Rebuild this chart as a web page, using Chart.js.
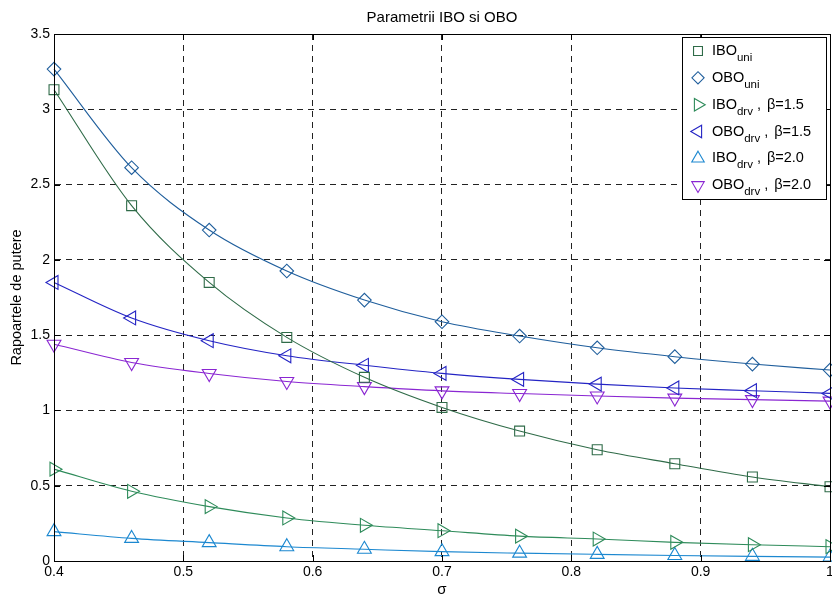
<!DOCTYPE html>
<html>
<head>
<meta charset="utf-8">
<script src="https://cdn.jsdelivr.net/npm/chart.js@4.4.1/dist/chart.umd.min.js"></script>
<style>
  html, body { margin: 0; padding: 0; background: #fff; }
  #wrap { width: 832px; height: 599px; }
</style>
</head>
<body>
<div id="wrap"><canvas id="chart" width="832" height="599"></canvas></div>
<script>
// sigma values where the markers sit
const sigma = [0.40, 0.46, 0.52, 0.58, 0.64, 0.70, 0.76, 0.82, 0.88, 0.94, 1.00];

// series
const iboUni    = [3.13, 2.36, 1.85, 1.485, 1.22, 1.02, 0.863, 0.739, 0.646, 0.558, 0.493];
const oboUni    = [3.267, 2.612, 2.198, 1.926, 1.733, 1.589, 1.494, 1.416, 1.357, 1.308, 1.268];
const iboDrv15  = [0.61, 0.463, 0.361, 0.286, 0.237, 0.201, 0.165, 0.146, 0.124, 0.108, 0.095];
const oboDrv15  = [1.85, 1.614, 1.463, 1.363, 1.30, 1.246, 1.206, 1.175, 1.149, 1.131, 1.113];
const iboDrv20  = [0.195, 0.15, 0.122, 0.095, 0.078, 0.062, 0.052, 0.044, 0.037, 0.031, 0.026];
const oboDrv20  = [1.44, 1.318, 1.245, 1.192, 1.158, 1.13, 1.112, 1.096, 1.082, 1.072, 1.062];

const xTicks = [0.4, 0.5, 0.6, 0.7, 0.8, 0.9, 1];
const yTicks = [0, 0.5, 1, 1.5, 2, 2.5, 3, 3.5];

const FONT = '"Liberation Sans", Arial, Helvetica, sans-serif';

const seriesInfo = [
  { name: 'IBO', sub: 'uni', tail: '',          data: iboUni,   color: '#2f6b48', style: 'rect',     rot: 0,   r: 7 },
  { name: 'OBO', sub: 'uni', tail: '',          data: oboUni,   color: '#1f5e9c', style: 'rectRot',  rot: 0,   r: 6.8 },
  { name: 'IBO', sub: 'drv', tail: '\u03b2=1.5', data: iboDrv15, color: '#2e8b5a', style: 'triangle', rot: 90,  r: 8 },
  { name: 'OBO', sub: 'drv', tail: '\u03b2=1.5', data: oboDrv15, color: '#2424c4', style: 'triangle', rot: 270, r: 8 },
  { name: 'IBO', sub: 'drv', tail: '\u03b2=2.0', data: iboDrv20, color: '#1c88d0', style: 'triangle', rot: 0,   r: 8 },
  { name: 'OBO', sub: 'drv', tail: '\u03b2=2.0', data: oboDrv20, color: '#8a26d2', style: 'triangle', rot: 180, r: 8 }
];

const datasets = seriesInfo.map(s => ({
  label: s.name + '_' + s.sub + (s.tail ? ' , ' + s.tail : ''),
  data: sigma.map((x, i) => ({ x: x, y: s.data[i] })),
  borderColor: s.color,
  borderWidth: 1.1,
  pointStyle: s.style,
  pointRotation: s.rot,
  pointRadius: s.r,
  pointBorderColor: s.color,
  pointBackgroundColor: 'rgba(0,0,0,0)',
  pointBorderWidth: 1.1,
  cubicInterpolationMode: 'monotone',
  clip: false
}));

// box, inward tick marks, title and the legend with subscripts
const matlabLook = {
  id: 'matlabLook',
  afterDraw(chart) {
    const ctx = chart.ctx;
    const a = chart.chartArea;
    const xs = chart.scales.x, ys = chart.scales.y;
    ctx.save();
    ctx.strokeStyle = '#000';
    ctx.lineWidth = 1;
    ctx.setLineDash([]);
    ctx.beginPath();
    xTicks.forEach(t => {
      const px = Math.round(xs.getPixelForValue(t)) + 0.5;
      ctx.moveTo(px, a.bottom); ctx.lineTo(px, a.bottom - 6);
      ctx.moveTo(px, a.top); ctx.lineTo(px, a.top + 6);
    });
    yTicks.forEach(t => {
      const py = Math.round(ys.getPixelForValue(t)) + 0.5;
      ctx.moveTo(a.left, py); ctx.lineTo(a.left + 6, py);
      ctx.moveTo(a.right, py); ctx.lineTo(a.right - 6, py);
    });
    ctx.stroke();
    ctx.strokeRect(Math.round(a.left) + 0.5, Math.round(a.top) + 0.5,
                   Math.round(a.right - a.left), Math.round(a.bottom - a.top));

    // title
    ctx.fillStyle = '#000';
    ctx.font = '15px ' + FONT;
    ctx.textAlign = 'center';
    ctx.textBaseline = 'alphabetic';
    ctx.fillText('Parametrii IBO si OBO', (a.left + a.right) / 2, 21.5);

    // legend
    const bx = 682.5, by = 37.5, bw = 144, bh = 162;
    ctx.fillStyle = '#fff';
    ctx.fillRect(bx, by, bw, bh);
    ctx.strokeStyle = '#000';
    ctx.strokeRect(bx, by, bw, bh);
    seriesInfo.forEach((s, i) => {
      const base = 55 + 26.85 * i;
      ctx.strokeStyle = s.color;
      ctx.fillStyle = 'rgba(0,0,0,0)';
      ctx.lineWidth = 1.1;
      Chart.helpers.drawPoint(ctx, { pointStyle: s.style, rotation: s.rot, radius: s.r * 0.9, borderWidth: 1.1 }, 698, base - 4);
      ctx.fillStyle = '#000';
      ctx.textAlign = 'left';
      ctx.font = '14.5px ' + FONT;
      let x = 712;
      ctx.fillText(s.name, x, base);
      x += ctx.measureText(s.name).width;
      ctx.font = '11.5px ' + FONT;
      ctx.fillText(s.sub, x, base + 6);
      x += ctx.measureText(s.sub).width;
      if (s.tail) {
        ctx.font = '14.5px ' + FONT;
        ctx.fillText(',', x + 4, base);
        ctx.fillText(s.tail, x + 14, base);
      }
    });
    ctx.restore();
  }
};

const fmt = v => String(+Number(v).toFixed(2));

new Chart(document.getElementById('chart'), {
  type: 'line',
  data: { datasets: datasets },
  options: {
    responsive: false,
    animation: false,
    layout: { autoPadding: false, padding: { top: 34, right: 2, left: 0, bottom: 0 } },
    plugins: { legend: { display: false }, title: { display: false }, tooltip: { enabled: false } },
    scales: {
      x: {
        type: 'linear',
        min: 0.4, max: 1,
        afterBuildTicks: s => { s.ticks = xTicks.map(v => ({ value: v })); },
        afterFit: s => { s.height = 38; s.paddingLeft = 0; s.paddingRight = 0; },
        ticks: { callback: fmt, color: '#000', font: { family: FONT, size: 14 }, padding: 3, maxRotation: 0, autoSkip: false },
        grid: { color: '#222', lineWidth: 1, drawTicks: false },
        border: { color: '#000', width: 1, dash: [6, 5] },
        title: { display: true, text: '\u03c3', color: '#000', font: { family: FONT, size: 15 }, padding: 0 }
      },
      y: {
        type: 'linear',
        min: 0, max: 3.5,
        afterBuildTicks: s => { s.ticks = yTicks.map(v => ({ value: v })); },
        afterFit: s => { s.width = 54; s.paddingTop = 0; s.paddingBottom = 0; },
        ticks: { callback: fmt, color: '#000', font: { family: FONT, size: 14 }, padding: 4, autoSkip: false },
        grid: { color: '#222', lineWidth: 1, drawTicks: false },
        border: { color: '#000', width: 1, dash: [6, 5] },
        title: { display: true, text: 'Rapoartele de putere', color: '#000', font: { family: FONT, size: 14.5 }, padding: { top: 8, bottom: 0 } }
      }
    }
  },
  plugins: [matlabLook]
});
</script>
</body>
</html>
